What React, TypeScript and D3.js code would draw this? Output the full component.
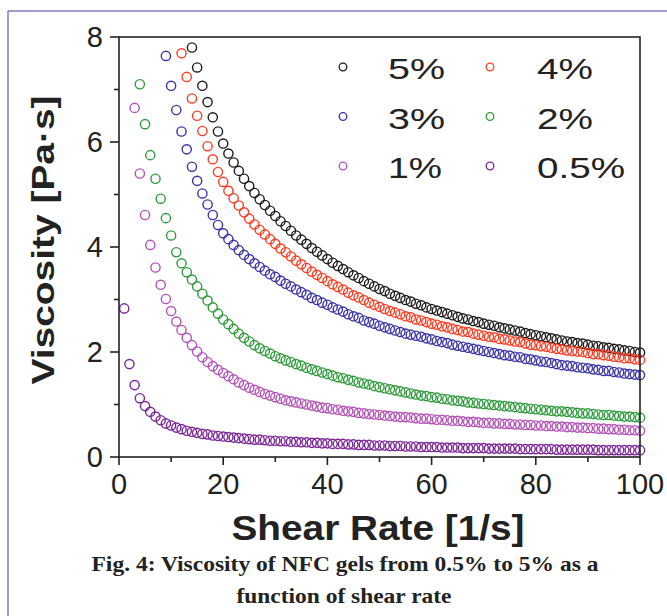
import React from "react";
import * as d3 from "d3";

// shear rate [1/s], one reading per step
const shearRate = [
  1, 2, 3, 4, 5, 6, 7, 8, 9, 10,
  11, 12, 13, 14, 15, 16, 17, 18, 19, 20,
  21, 22, 23, 24, 25, 26, 27, 28, 29, 30,
  31, 32, 33, 34, 35, 36, 37, 38, 39, 40,
  41, 42, 43, 44, 45, 46, 47, 48, 49, 50,
  51, 52, 53, 54, 55, 56, 57, 58, 59, 60,
  61, 62, 63, 64, 65, 66, 67, 68, 69, 70,
  71, 72, 73, 74, 75, 76, 77, 78, 79, 80,
  81, 82, 83, 84, 85, 86, 87, 88, 89, 90,
  91, 92, 93, 94, 95, 96, 97, 98, 99, 100,
];

// viscosity [Pa·s]; null = off the top of the plot
const visc5 = [
  null, null, null, null, null, null, null, null, null, null,
  null, null, null, 7.8, 7.42, 7.07, 6.76, 6.47, 6.2, 5.97,
  5.78, 5.61, 5.45, 5.3, 5.16, 5.03, 4.91, 4.8, 4.69, 4.59,
  4.49, 4.4, 4.31, 4.22, 4.14, 4.06, 3.98, 3.91, 3.84, 3.77,
  3.7, 3.64, 3.58, 3.52, 3.46, 3.41, 3.35, 3.3, 3.25, 3.2,
  3.16, 3.11, 3.07, 3.03, 2.99, 2.96, 2.92, 2.89, 2.85, 2.82,
  2.79, 2.76, 2.73, 2.7, 2.67, 2.64, 2.62, 2.59, 2.57, 2.54,
  2.52, 2.5, 2.47, 2.45, 2.43, 2.41, 2.39, 2.36, 2.34, 2.32,
  2.3, 2.28, 2.26, 2.24, 2.22, 2.2, 2.19, 2.17, 2.16, 2.14,
  2.12, 2.11, 2.09, 2.08, 2.06, 2.05, 2.03, 2.02, 2.0, 1.99,
];
const visc4 = [
  null, null, null, null, null, null, null, null, null, null,
  null, 7.69, 7.24, 6.83, 6.5, 6.21, 5.92, 5.67, 5.43, 5.24,
  5.07, 4.93, 4.79, 4.66, 4.54, 4.43, 4.33, 4.24, 4.15, 4.06,
  3.97, 3.9, 3.82, 3.74, 3.67, 3.6, 3.53, 3.47, 3.41, 3.35,
  3.29, 3.24, 3.19, 3.13, 3.08, 3.04, 2.99, 2.94, 2.9, 2.86,
  2.82, 2.78, 2.75, 2.72, 2.68, 2.66, 2.62, 2.6, 2.57, 2.54,
  2.52, 2.49, 2.47, 2.44, 2.42, 2.39, 2.38, 2.35, 2.33, 2.31,
  2.29, 2.28, 2.25, 2.24, 2.22, 2.2, 2.19, 2.16, 2.14, 2.13,
  2.11, 2.1, 2.08, 2.06, 2.05, 2.03, 2.02, 2.01, 2.0, 1.98,
  1.96, 1.96, 1.94, 1.93, 1.91, 1.9, 1.88, 1.88, 1.86, 1.85,
];
const visc3 = [
  null, null, null, null, null, null, null, null, 7.64, 7.07,
  6.61, 6.2, 5.86, 5.53, 5.26, 5.02, 4.81, 4.61, 4.42, 4.26,
  4.15, 4.04, 3.94, 3.85, 3.77, 3.69, 3.62, 3.55, 3.48, 3.43,
  3.36, 3.3, 3.25, 3.19, 3.14, 3.09, 3.03, 2.99, 2.94, 2.9,
  2.85, 2.81, 2.77, 2.72, 2.68, 2.65, 2.6, 2.57, 2.54, 2.5,
  2.47, 2.44, 2.41, 2.38, 2.35, 2.33, 2.31, 2.29, 2.26, 2.24,
  2.21, 2.19, 2.17, 2.14, 2.12, 2.1, 2.08, 2.06, 2.04, 2.02,
  2.0, 1.98, 1.96, 1.94, 1.93, 1.91, 1.9, 1.87, 1.86, 1.84,
  1.82, 1.81, 1.79, 1.77, 1.75, 1.74, 1.73, 1.71, 1.7, 1.69,
  1.67, 1.66, 1.64, 1.64, 1.62, 1.61, 1.59, 1.58, 1.57, 1.56,
];
const visc2 = [
  null, null, null, 7.1, 6.34, 5.75, 5.3, 4.92, 4.55, 4.22,
  3.9, 3.69, 3.52, 3.38, 3.25, 3.11, 2.98, 2.85, 2.73, 2.62,
  2.53, 2.44, 2.35, 2.27, 2.2, 2.13, 2.07, 2.02, 1.97, 1.92,
  1.88, 1.84, 1.81, 1.77, 1.74, 1.7, 1.67, 1.64, 1.61, 1.58,
  1.55, 1.52, 1.5, 1.47, 1.45, 1.42, 1.4, 1.38, 1.35, 1.33,
  1.31, 1.29, 1.27, 1.25, 1.23, 1.21, 1.19, 1.17, 1.16, 1.14,
  1.13, 1.11, 1.1, 1.08, 1.07, 1.06, 1.04, 1.03, 1.02, 1.01,
  1.0, 0.99, 0.98, 0.97, 0.96, 0.95, 0.94, 0.93, 0.92, 0.91,
  0.9, 0.89, 0.88, 0.87, 0.87, 0.86, 0.85, 0.84, 0.83, 0.83,
  0.82, 0.81, 0.8, 0.8, 0.79, 0.78, 0.77, 0.77, 0.76, 0.75,
];
const visc1 = [
  null, null, 6.65, 5.4, 4.61, 4.04, 3.61, 3.28, 3.01, 2.78,
  2.58, 2.42, 2.27, 2.13, 2.01, 1.9, 1.81, 1.73, 1.66, 1.6,
  1.54, 1.48, 1.42, 1.37, 1.32, 1.28, 1.24, 1.2, 1.17, 1.14,
  1.11, 1.08, 1.06, 1.04, 1.02, 1.0, 0.98, 0.96, 0.94, 0.93,
  0.91, 0.9, 0.88, 0.87, 0.86, 0.84, 0.83, 0.82, 0.81, 0.8,
  0.79, 0.78, 0.77, 0.76, 0.76, 0.75, 0.74, 0.73, 0.73, 0.72,
  0.71, 0.71, 0.7, 0.69, 0.69, 0.68, 0.67, 0.67, 0.66, 0.65,
  0.65, 0.64, 0.64, 0.63, 0.63, 0.62, 0.62, 0.61, 0.61, 0.6,
  0.6, 0.59, 0.59, 0.58, 0.58, 0.57, 0.57, 0.56, 0.56, 0.55,
  0.55, 0.54, 0.54, 0.53, 0.53, 0.52, 0.52, 0.51, 0.51, 0.5,
];
const visc05 = [
  2.83, 1.77, 1.37, 1.12, 0.97, 0.86, 0.77, 0.7, 0.64, 0.6,
  0.56, 0.53, 0.5, 0.48, 0.46, 0.44, 0.43, 0.41, 0.4, 0.39,
  0.38, 0.37, 0.36, 0.35, 0.34, 0.33, 0.33, 0.32, 0.31, 0.31,
  0.3, 0.3, 0.29, 0.29, 0.28, 0.28, 0.27, 0.27, 0.26, 0.26,
  0.25, 0.25, 0.25, 0.24, 0.24, 0.23, 0.23, 0.23, 0.22, 0.22,
  0.22, 0.21, 0.21, 0.21, 0.2, 0.2, 0.2, 0.19, 0.19, 0.19,
  0.19, 0.18, 0.18, 0.18, 0.18, 0.17, 0.17, 0.17, 0.17, 0.17,
  0.16, 0.16, 0.16, 0.16, 0.16, 0.16, 0.15, 0.15, 0.15, 0.15,
  0.15, 0.15, 0.15, 0.14, 0.14, 0.14, 0.14, 0.14, 0.14, 0.14,
  0.14, 0.13, 0.13, 0.13, 0.13, 0.13, 0.13, 0.13, 0.13, 0.13,
];

const seriesLabels = ["5%", "4%", "3%", "2%", "1%", "0.5%"];
const seriesValues = [visc5, visc4, visc3, visc2, visc1, visc05];
const seriesColors = ["#1c1c1c", "#ff3b20", "#3b33a8", "#2e9b3b", "#b452b8", "#7c2698"];
// rough text widths of the legend labels in the picture
const legendWidths = [57, 56, 57, 56, 54, 88];

const W = 667;
const H = 616;
const SANS = "'Liberation Sans', Arial, sans-serif";
const SERIF = "'Liberation Serif', 'Times New Roman', serif";

export default function App() {
  const x = d3.scaleLinear().domain([0, 100]).range([119, 640]);
  const y = d3.scaleLinear().domain([0, 8]).range([457, 37]);

  const xMajor = x.ticks(5);
  const xMinor = x.ticks(10).filter((t) => !xMajor.includes(t));
  const yMajor = y.ticks(4);
  const yMinor = y.ticks(8).filter((t) => !yMajor.includes(t));

  const axisColor = "#222";

  return (
    <svg
      width={W}
      height={H}
      style={{ position: "absolute", left: 0, top: 0, background: "#fff" }}
    >
      {/* page frame */}
      <line x1={8} y1={11} x2={W} y2={11} stroke="#7c7cc6" strokeWidth={1.5} />
      <line x1={8} y1={11} x2={8} y2={H} stroke="#7c7cc6" strokeWidth={1.5} />

      {/* data */}
      {seriesValues.map((vals, si) => (
        <g key={si} fill="none" stroke={seriesColors[si]} strokeWidth={1.4}>
          {vals.map((v, i) =>
            v == null ? null : (
              <circle key={i} cx={x(shearRate[i])} cy={y(v)} r={4.6} />
            )
          )}
        </g>
      ))}

      {/* plot box */}
      <rect
        x={x(0)}
        y={y(8)}
        width={x(100) - x(0)}
        height={y(0) - y(8)}
        fill="none"
        stroke={axisColor}
        strokeWidth={1.6}
      />

      {/* x axis ticks */}
      {xMajor.map((t) => (
        <g key={"xM" + t}>
          <line x1={x(t)} x2={x(t)} y1={y(0)} y2={y(0) + 8} stroke={axisColor} strokeWidth={1.6} />
          <text
            x={x(t)}
            y={494}
            textAnchor="middle"
            fontFamily={SANS}
            fontSize={29}
            fill="#222"
          >
            {t}
          </text>
        </g>
      ))}
      {xMinor.map((t) => (
        <line key={"xm" + t} x1={x(t)} x2={x(t)} y1={y(0)} y2={y(0) + 5} stroke={axisColor} strokeWidth={1.6} />
      ))}

      {/* y axis ticks */}
      {yMajor.map((t) => (
        <g key={"yM" + t}>
          <line x1={x(0) - 9} x2={x(0)} y1={y(t)} y2={y(t)} stroke={axisColor} strokeWidth={1.6} />
          <text
            x={103}
            y={y(t) + 10}
            textAnchor="end"
            fontFamily={SANS}
            fontSize={29}
            fill="#222"
          >
            {t}
          </text>
        </g>
      ))}
      {yMinor.map((t) => (
        <line key={"ym" + t} x1={x(0) - 5} x2={x(0)} y1={y(t)} y2={y(t)} stroke={axisColor} strokeWidth={1.6} />
      ))}

      {/* axis titles */}
      <text
        transform="translate(54,240) rotate(-90)"
        textAnchor="middle"
        fontFamily={SANS}
        fontWeight="bold"
        fontSize={32}
        textLength={289}
        lengthAdjust="spacingAndGlyphs"
        fill="#222"
      >
        Viscosity [Pa·s]
      </text>
      <text
        x={378}
        y={540}
        textAnchor="middle"
        fontFamily={SANS}
        fontWeight="bold"
        fontSize={35}
        textLength={293}
        lengthAdjust="spacingAndGlyphs"
        fill="#222"
      >
        Shear Rate [1/s]
      </text>

      {/* legend */}
      {seriesLabels.map((lab, i) => {
        const col = i % 2;
        const row = Math.floor(i / 2);
        const mx = col === 0 ? 343 : 490;
        const my = 67 + row * 49.5;
        return (
          <g key={lab}>
            <circle cx={mx} cy={my} r={3.8} fill="none" stroke={seriesColors[i]} strokeWidth={1.3} />
            <text
              x={col === 0 ? 388 : 537}
              y={my + 12}
              fontFamily={SANS}
              fontSize={30}
              textLength={legendWidths[i]}
              lengthAdjust="spacingAndGlyphs"
              fill="#222"
            >
              {lab}
            </text>
          </g>
        );
      })}

      {/* caption */}
      <text
        x={345}
        y={571}
        textAnchor="middle"
        fontFamily={SERIF}
        fontWeight="bold"
        fontSize={22}
        textLength={507}
        lengthAdjust="spacingAndGlyphs"
        fill="#222"
      >
        Fig. 4: Viscosity of NFC gels from 0.5% to 5% as a
      </text>
      <text
        x={344}
        y={603}
        textAnchor="middle"
        fontFamily={SERIF}
        fontWeight="bold"
        fontSize={22}
        textLength={215}
        lengthAdjust="spacingAndGlyphs"
        fill="#222"
      >
        function of shear rate
      </text>
    </svg>
  );
}
